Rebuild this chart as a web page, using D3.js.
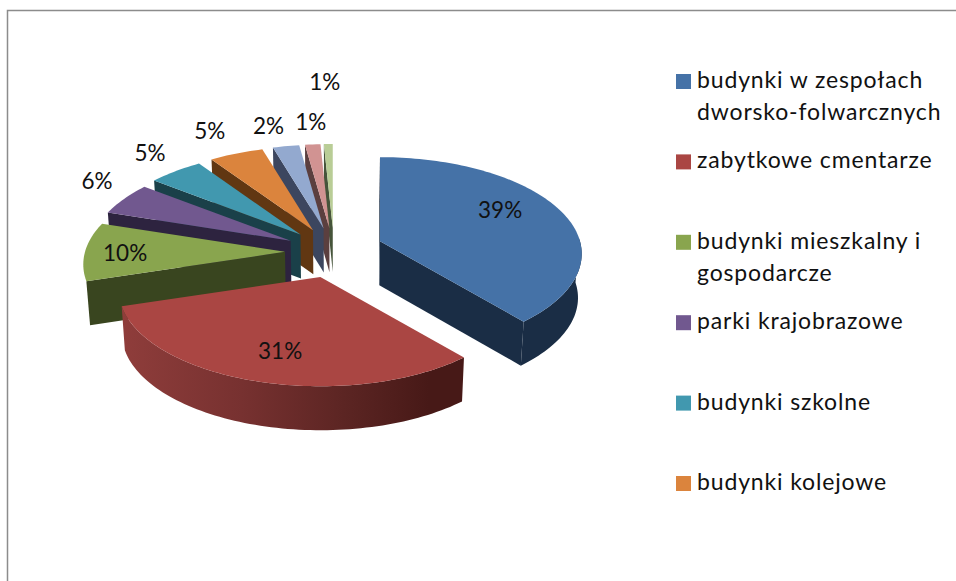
<!DOCTYPE html>
<html>
<head>
<meta charset="utf-8">
<script src="https://d3js.org/d3.v7.min.js"></script>
<style>
  html, body { margin: 0; padding: 0; background: #fff; }
  svg { display: block; }
  text { font-family: Lato, "Open Sans", sans-serif; fill: #111; }
</style>
</head>
<body>
<div id="my_dataviz"></div>
<script>
// chart values (clockwise from 12 o'clock)
var categories = ["budynki w zespołach|dworsko-folwarcznych", "zabytkowe cmentarze", "budynki mieszkalny i|gospodarcze",
    "parki krajobrazowe", "budynki szkolne", "budynki kolejowe"]
var values = [38.8, 31.4, 9.8, 5.5, 5, 4.9, 2.4, 1.4, 0.8]
var topColors = ["#4572a7", "#aa4643", "#89a54e", "#71588f", "#4198af", "#db843d", "#93a9cf", "#d19392", "#b9cd96"]
var wallColors = ["#1a2d45", "url(#redWall)", "#39451f", "#2d233f", "#1a4049", "#613712", "#3c465f", "#5b3f3f", "#46543a"]

// label placement: fraction of the radius, then a small nudge
var labelRadius = [0.67, 0.6, 0.8, 1.2, 1.2, 1.2, 1.2, 1.2, 1.7]
var labelNudge = [[-2, -10], [-4, 15], [0, 2], [4, -10], [-3, -7], [-13, -9], [-11, -6], [1, -8], [-1, -14]]

var width = 956
var height = 581

// pie geometry
var cx = 334, cy = 252
var rx = 200, ry = 95
var explode = 0.245   // how far slices are pulled out, as part of the radius
var persp = 0.13      // nearer things get bigger
var depth = 44
var shrink = 0.985    // walls lean in a little towards the bottom
var lift = [-2.5, 2, 0, 0, 0, 0, 0, 0, 0]   // the two big slices sit a bit off the model

var svg = d3.select("#my_dataviz")
    .append("svg")
    .attr("width", width)
    .attr("height", height)

// frame
svg.append("path")
    .attr("d", "M7.5," + height + "V10.5H" + width)
    .attr("fill", "none")
    .attr("stroke", "#8c8c8c")
    .attr("stroke-width", 1.5)

var grad = svg.append("defs").append("linearGradient")
    .attr("id", "redWall")
    .attr("gradientUnits", "userSpaceOnUse")
    .attr("x1", 122).attr("x2", 463).attr("y1", 0).attr("y2", 0)
grad.selectAll("stop")
    .data([[0, "#8f3d3b"], [0.35, "#773130"], [0.65, "#5c2523"], [0.9, "#471917"]])
    .enter().append("stop")
    .attr("offset", function(d) { return d[0] })
    .attr("stop-color", function(d) { return d[1] })

var slices = d3.pie().sort(null)(values).map(function(d, i) {
    var mid = (d.startAngle + d.endAngle) / 2
    d.i = i
    d.mid = mid
    d.ax = cx + explode * rx * Math.sin(mid)
    d.ay = cy - explode * ry * 1.03 * Math.cos(mid) + lift[i]
    return d
})

// point on the rim of a slice, at fraction f of the radius
function rim(d, a, f) {
    var s = 1 / (1 + persp * Math.cos(a) * f)
    return [d.ax + rx * f * Math.sin(a) * s, d.ay - ry * f * Math.cos(a) * s]
}

// same point, dropped to the bottom of the pie
function drop(p) {
    return [cx + (p[0] - cx) * shrink, p[1] + depth]
}

function arcPoints(d) {
    var n = Math.max(2, Math.ceil((d.endAngle - d.startAngle) * 40))
    return d3.range(n + 1).map(function(k) {
        return rim(d, d.startAngle + (d.endAngle - d.startAngle) * k / n, 1)
    })
}

var line = d3.line()

// back slices first, red sits in front of everything
var order = [8, 7, 6, 5, 4, 3, 2, 0, 1]

var groups = svg.selectAll("g.slice")
    .data(order.map(function(i) { return slices[i] }))
    .enter()
    .append("g")
    .attr("class", "slice")

groups.each(function(d) {
    var g = d3.select(this)
    var apex = [d.ax, d.ay]
    var pts = arcPoints(d)
    var wall = wallColors[d.i]

    // flat sides, only the ones facing us (positive area)
    var first = [apex, pts[0], drop(pts[0]), drop(apex)]
    var last = [pts[pts.length - 1], apex, drop(apex), drop(pts[pts.length - 1])]
    ;[first, last].forEach(function(q) {
        if (d3.polygonArea(q) < 0) return
        g.append("path").attr("d", line(q) + "Z").attr("fill", wall === "url(#redWall)" ? "#471917" : wall)
    })

    // curved side, only the part that faces us (past 253deg it goes round the back)
    var front = pts.filter(function(p, k) {
        var a = d.startAngle + (d.endAngle - d.startAngle) * k / (pts.length - 1)
        return Math.cos(a) < 0.05 && a < 253 * Math.PI / 180
    })
    if (front.length > 1) {
        var shell = front.concat(front.map(drop).reverse())
        g.append("path").attr("d", line(shell) + "Z").attr("fill", wall)
    }

    // top
    g.append("path")
        .attr("d", line([apex].concat(pts)) + "Z")
        .attr("fill", topColors[d.i])
})

// percentage labels
svg.selectAll("text.pct")
    .data(slices)
    .enter()
    .append("text")
    .attr("class", "pct")
    .attr("x", function(d) { return rim(d, d.mid, labelRadius[d.i])[0] + labelNudge[d.i][0] })
    .attr("y", function(d) { return rim(d, d.mid, labelRadius[d.i])[1] + labelNudge[d.i][1] })
    .attr("dy", "0.35em")
    .attr("text-anchor", "middle")
    .style("font-size", "22.5px")
    .text(function(d) { return Math.round(d.value) + "%" })

// legend
var legendY = d3.scaleLinear().domain([0, 5]).range([74, 476])

var legend = svg.selectAll("g.legend")
    .data(categories)
    .enter()
    .append("g")
    .attr("class", "legend")
    .attr("transform", function(d, i) { return "translate(676," + legendY(i) + ")" })

legend.append("rect")
    .attr("width", 15)
    .attr("height", 15)
    .attr("fill", function(d, i) { return topColors[i] })

legend.append("text")
    .attr("x", 21)
    .attr("y", 14)
    .style("font-size", "23px")
    .style("letter-spacing", "0.85px")
    .selectAll("tspan")
    .data(function(d) { return d.split("|") })
    .enter()
    .append("tspan")
    .attr("x", 21)
    .attr("dy", function(d, i) { return i ? 32 : 0 })
    .text(function(d) { return d })
</script>
</body>
</html>
